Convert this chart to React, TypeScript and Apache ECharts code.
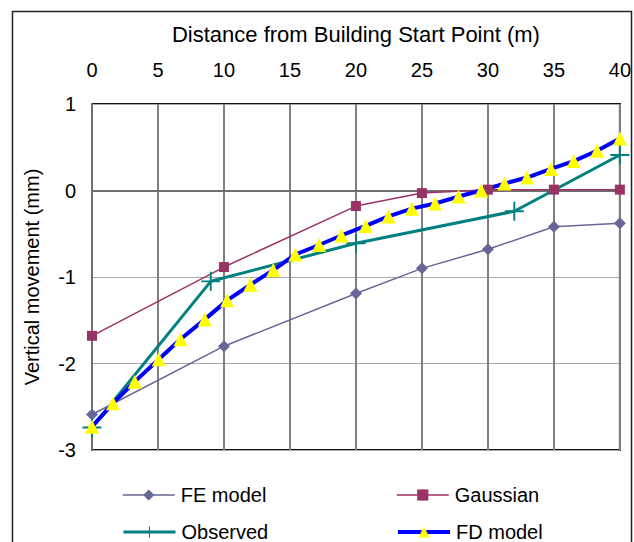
import React, { useEffect, useRef } from "react";
import * as echarts from "echarts";

const xTicks = [0, 5, 10, 15, 20, 25, 30, 35, 40];
const yTicks = [-3, -2, -1, 0, 1];

const feX = [0, 10, 20, 25, 30, 35, 40];
const feY = [-2.59, -1.8, -1.19, -0.9, -0.68, -0.42, -0.38];

const gaX = [0, 10, 20, 25, 30, 35, 40];
const gaY = [-1.68, -0.885, -0.18, -0.03, 0.01, 0.01, 0.01];

const obX = [0, 9, 20, 32, 40];
const obY = [-2.74, -1.05, -0.61, -0.24, 0.41];

const fdX = [0, 1.59, 3.24, 5.06, 6.7, 8.55, 10.24, 12.0, 13.73, 15.4, 17.2, 18.9, 20.74, 22.46, 24.23, 26.0, 27.77, 29.49, 31.26, 32.96, 34.78, 36.5, 38.27, 40];
const fdY = [-2.73, -2.46, -2.21, -1.95, -1.72, -1.49, -1.27, -1.09, -0.92, -0.74, -0.63, -0.52, -0.41, -0.3, -0.21, -0.15, -0.07, 0.0, 0.08, 0.15, 0.25, 0.34, 0.46, 0.6];

const seriesNames = ["FE model", "Gaussian", "Observed", "FD model"];

const zip = (xs: number[], ys: number[]) => xs.map((x, i) => [x, ys[i]]);

const FONT = "'Liberation Sans', Arial, sans-serif";
const PLUS = "path://M-1,-10H1V-1H10V1H1V10H-1V1H-10V-1H-1Z";

export default function App() {
  const ref = useRef<HTMLDivElement>(null);
  useEffect(() => {
    if (!ref.current) return;
    const chart = echarts.init(ref.current, undefined, { renderer: "svg" });
    const legendBase = {
      orient: "horizontal",
      padding: 0,
      itemWidth: 52,
      itemHeight: 14,
      itemGap: 0,
      textStyle: { fontFamily: FONT, fontSize: 20, color: "#000", padding: [0, 0, 0, 1] },
      selectedMode: false,
    };
    chart.setOption({
      animation: false,
      backgroundColor: "#fff",
      textStyle: { fontFamily: FONT },
      grid: {
        left: 92,
        top: 104,
        width: 528,
        height: 346,
        show: true,
        borderColor: "#111",
        borderWidth: 2,
        backgroundColor: "#fff",
      },
      xAxis: {
        type: "value",
        position: "top",
        min: xTicks[0],
        max: xTicks[xTicks.length - 1],
        interval: 5,
        name: "Distance from Building Start Point (m)",
        nameLocation: "middle",
        nameGap: 59,
        nameTextStyle: { fontFamily: FONT, fontSize: 22, color: "#000" },
        axisLine: { show: true, lineStyle: { color: "#707070", width: 2 } },
        axisTick: { show: false },
        axisLabel: { fontFamily: FONT, fontSize: 20, color: "#000", margin: 24 },
        splitLine: { show: true, lineStyle: { color: "#808080", width: 2 } },
      },
      yAxis: {
        type: "value",
        min: yTicks[0],
        max: yTicks[yTicks.length - 1],
        interval: 1,
        name: "Vertical movement (mm)",
        nameLocation: "middle",
        nameGap: 50,
        nameTextStyle: { fontFamily: FONT, fontSize: 20, color: "#000" },
        axisLine: { show: true, lineStyle: { color: "#707070", width: 2 } },
        axisTick: { show: false },
        axisLabel: { fontFamily: FONT, fontSize: 20, color: "#000", margin: 16 },
        splitLine: { show: true, lineStyle: { color: "#a8a8a8", width: 1 } },
      },
      legend: [
        { ...legendBase, left: 122, top: 485, data: [seriesNames[0]], lineStyle: { width: 1.5 } },
        { ...legendBase, left: 396, top: 485, data: [seriesNames[1]], lineStyle: { width: 1.5 } },
        { ...legendBase, left: 122, top: 522, data: [seriesNames[2]], lineStyle: { width: 3 } },
        { ...legendBase, left: 396, top: 522, data: [seriesNames[3]], lineStyle: { width: 4 } },
      ],
      graphic: [
        {
          type: "rect",
          shape: { x: 12.5, y: 11.5, width: 619, height: 545 },
          style: { fill: "none", stroke: "#222", lineWidth: 1.5 },
          silent: true,
          z: 100,
        },
      ],
      series: [
        {
          name: seriesNames[0],
          type: "line",
          data: zip(feX, feY),
          symbol: "diamond",
          symbolSize: 12,
          showAllSymbol: true,
          lineStyle: { color: "#666699", width: 1.5 },
          itemStyle: { color: "#666699" },
        },
        {
          name: seriesNames[1],
          type: "line",
          data: zip(gaX, gaY),
          symbol: "rect",
          symbolSize: 10,
          showAllSymbol: true,
          lineStyle: { color: "#993366", width: 1.5 },
          itemStyle: { color: "#993366" },
        },
        {
          name: seriesNames[2],
          type: "line",
          data: zip(obX, obY),
          symbol: PLUS,
          symbolSize: 19,
          showAllSymbol: true,
          lineStyle: { color: "#008080", width: 3 },
          itemStyle: { color: "#008080" },
        },
        {
          name: seriesNames[3],
          type: "line",
          data: zip(fdX, fdY),
          symbol: "triangle",
          symbolSize: 14,
          showAllSymbol: true,
          lineStyle: { color: "#0000ff", width: 4 },
          itemStyle: { color: "#ffff00" },
        },
      ],
    });
    return () => chart.dispose();
  }, []);
  return (
    <div
      ref={ref}
      style={{ position: "fixed", left: 0, top: 0, width: 634, height: 542 }}
    />
  );
}
